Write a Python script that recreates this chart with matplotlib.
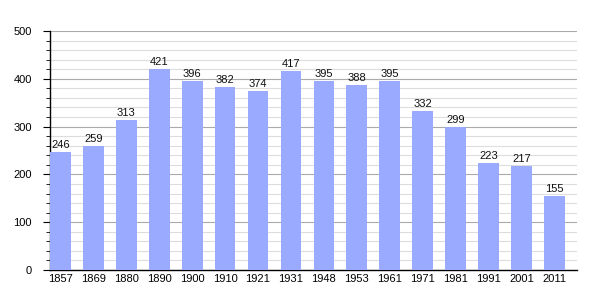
import matplotlib
matplotlib.use("Agg")
import matplotlib.pyplot as plt
import numpy as np
from matplotlib.ticker import MultipleLocator

years = ["1857", "1869", "1880", "1890", "1900", "1910", "1921", "1931",
         "1948", "1953", "1961", "1971", "1981", "1991", "2001", "2011"]
population = [246, 259, 313, 421, 396, 382, 374, 417, 395, 388, 395, 332, 299, 223, 217, 155]

plt.rcParams['font.family'] = ['Liberation Sans', 'DejaVu Sans']
fig = plt.figure(figsize=(6.05, 3.0), dpi=100)
ax = fig.add_axes([50/605, 30/300, 527/605, 239/300])

x = np.arange(len(years))
w = 0.63
ax.bar(x, population, width=w, align='edge', color='#99aaff', zorder=3)
for xi, v in zip(x, population):
    ax.text(xi + w/2, v + 4, str(v), ha='center', va='bottom', fontsize=8, color='#111111', zorder=4)

ax.set_xlim(0, len(years))
ax.set_ylim(0, 500)
ax.set_xticks(x + w/2)
ax.set_xticklabels(years, fontsize=8)
ax.tick_params(axis='x', length=0, pad=3)
ax.yaxis.set_major_locator(MultipleLocator(100))
ax.yaxis.set_minor_locator(MultipleLocator(20))
ax.tick_params(axis='y', which='major', length=5, labelsize=8, pad=8)
ax.tick_params(axis='y', which='minor', length=3)
ax.grid(axis='y', which='major', color='#aaaaaa', linewidth=0.8, zorder=0)
ax.grid(axis='y', which='minor', color='#dddddd', linewidth=0.8, zorder=0)
for s in ['top', 'right']:
    ax.spines[s].set_visible(False)
ax.spines['left'].set_linewidth(1.0)
ax.spines['bottom'].set_linewidth(1.0)

fig.savefig("out.png", dpi=100)
